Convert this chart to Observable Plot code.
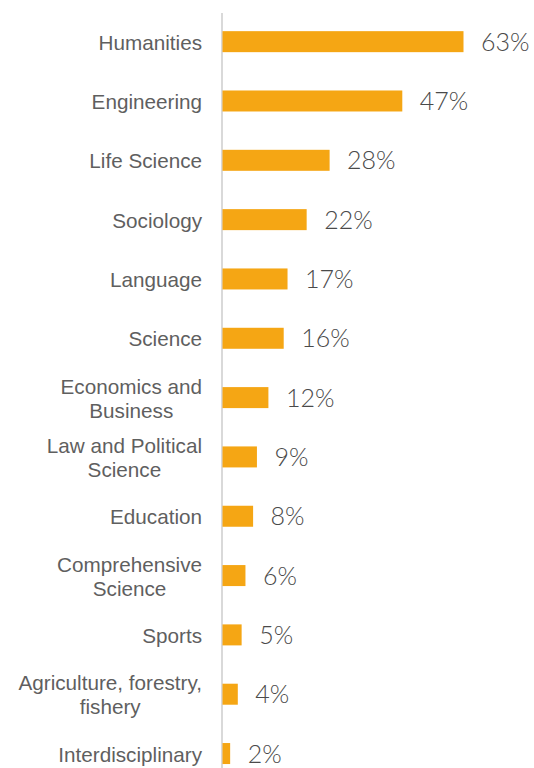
<!DOCTYPE html>
<html>
<head>
<meta charset="utf-8">
<script src="https://cdn.jsdelivr.net/npm/d3@7"></script>
<script src="https://cdn.jsdelivr.net/npm/@observablehq/plot@0.6"></script>
<style>
  html, body { margin: 0; padding: 0; background: #fff; }
  #chart svg { display: block; }
</style>
</head>
<body>
<div id="chart"></div>
<script>
const categories = [
  "Humanities",
  "Engineering",
  "Life Science",
  "Sociology",
  "Language",
  "Science",
  "Economics and\nBusiness",
  "Law and Political\nScience",
  "Education",
  "Comprehensive\nScience",
  "Sports",
  "Agriculture, forestry,\nfishery",
  "Interdisciplinary"
];
const values = [63, 47, 28, 22, 17, 16, 12, 9, 8, 6, 5, 4, 2];
const valueLabels = ["63%", "47%", "28%", "22%", "17%", "16%", "12%", "9%", "8%", "6%", "5%", "4%", "2%"];

const data = categories.map((c, i) => ({category: c, value: values[i], label: valueLabels[i]}));

const chart = Plot.plot({
  width: 534,
  height: 768,
  marginTop: 13,
  marginBottom: 0,
  marginLeft: 0,
  marginRight: 0,
  x: {domain: [0, 63], range: [222.5, 463.5], axis: null},
  y: {domain: categories, range: [12, 783.2], paddingInner: 0.646, paddingOuter: 0.323, round: false, axis: null},
  marks: [
    Plot.ruleX([0], {stroke: "#d9d9d9", strokeWidth: 2, dx: -1}),
    Plot.barX(data, {x: "value", y: "category", fill: "#F5A614"}),
    Plot.text(data, {
      x: "value", y: "category", text: "label",
      textAnchor: "start", dx: 17, dy: 0.5,
      fill: "#4a4a4a", fontSize: 25, fontFamily: "Lato", fontWeight: 300
    }),
    Plot.text(data, {
      x: 0, y: "category", text: "category",
      textAnchor: "end", dx: -21, lineAnchor: "middle", lineHeight: 1.15,
      fill: "#5f5f5f", fontSize: 20.7, fontFamily: "Liberation Sans, Arial, sans-serif"
    })
  ]
});

document.getElementById("chart").appendChild(chart);

// center multi-line category labels relative to each other, keeping the block right-aligned
chart.querySelectorAll("text").forEach(t => {
  const spans = t.querySelectorAll("tspan");
  if (spans.length > 1 && t.closest("g") && t.closest("g").getAttribute("text-anchor") === "end") {
    let w = 0;
    spans.forEach(s => { w = Math.max(w, s.getComputedTextLength()); });
    t.setAttribute("text-anchor", "middle");
    spans.forEach(s => s.setAttribute("x", -w / 2));
  }
});
</script>
</body>
</html>
